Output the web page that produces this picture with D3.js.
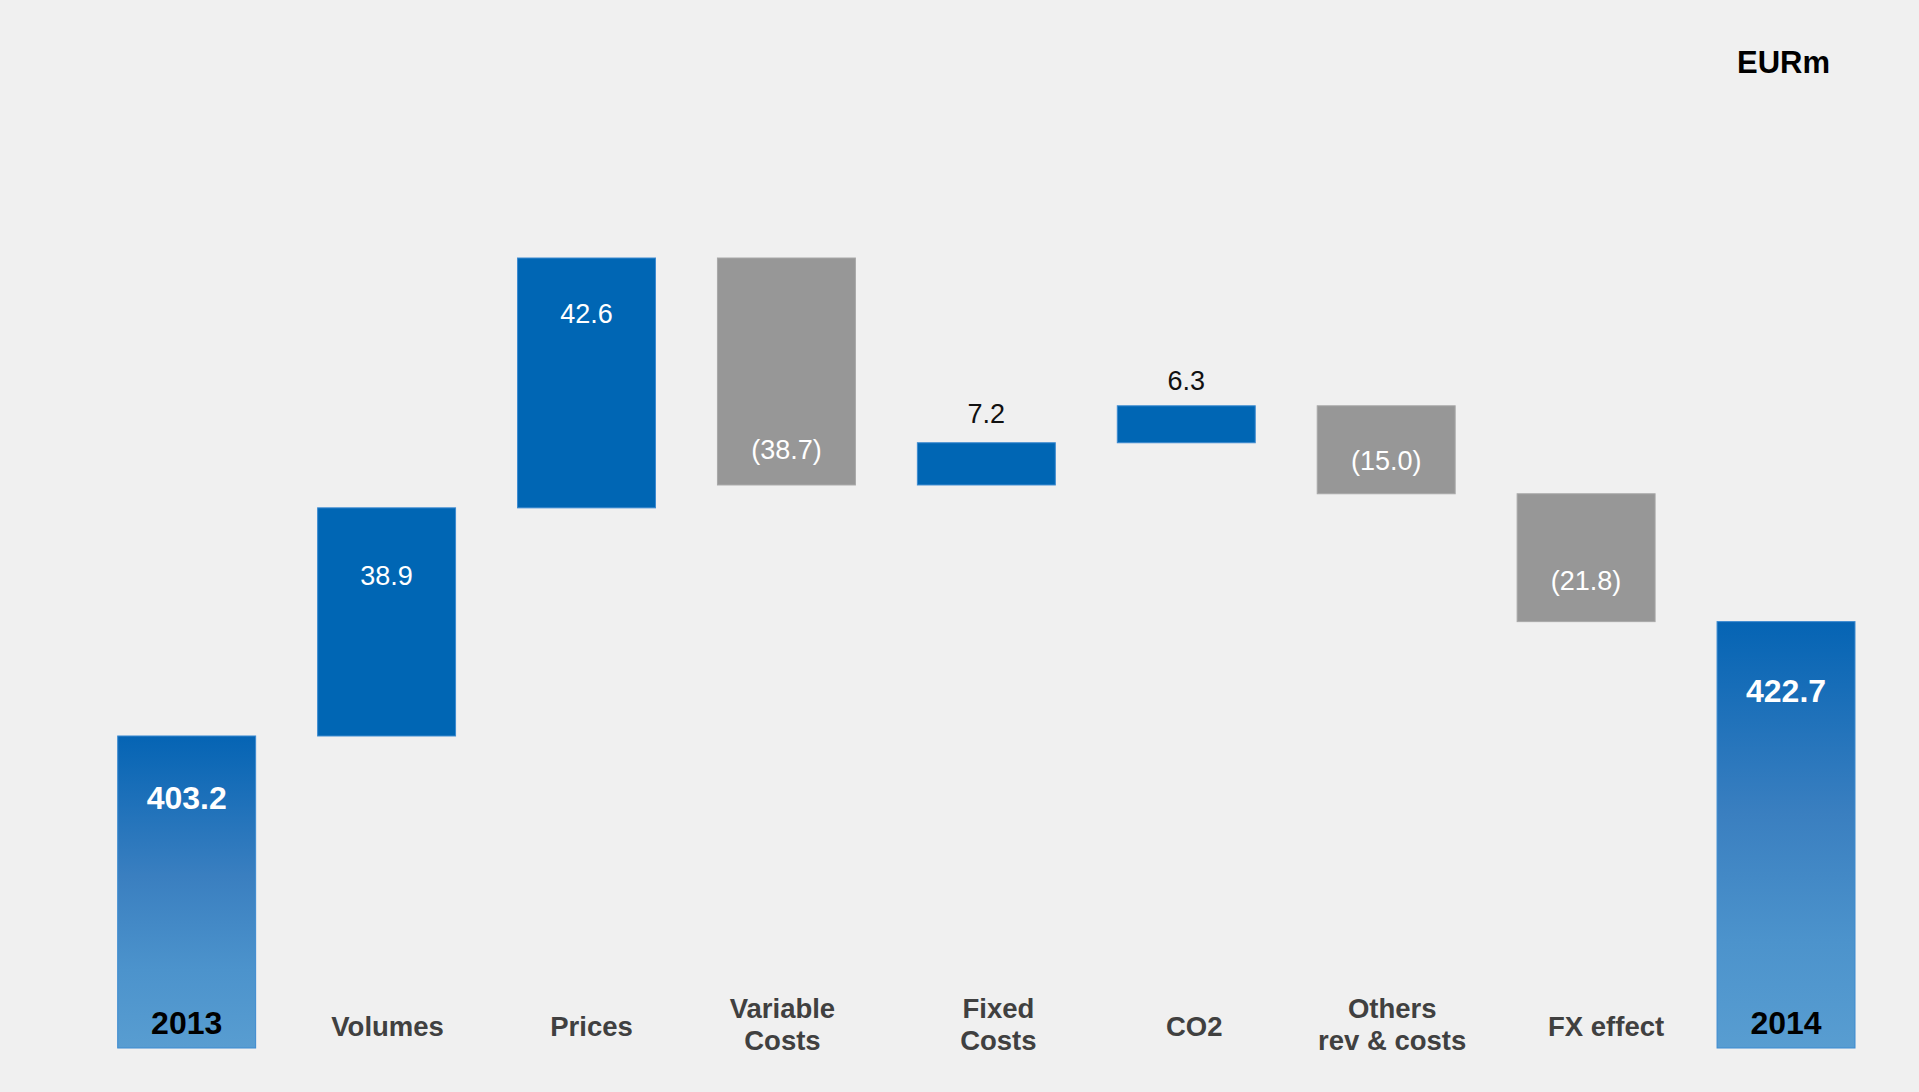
<!DOCTYPE html>
<html>
<head>
<meta charset="utf-8">
<script src="https://cdn.jsdelivr.net/npm/d3@7"></script>
<style>
  html, body { margin: 0; padding: 0; background: #f0f0f0; }
  svg { display: block; font-family: "Liberation Sans", Arial, sans-serif; }
</style>
</head>
<body>
<script>
// chart data
const categories = ["2013", "Volumes", "Prices", "Variable Costs", "Fixed Costs",
                    "CO2", "Others rev & costs", "FX effect", "2014"];
const labelLines = [["2013"], ["Volumes"], ["Prices"], ["Variable", "Costs"], ["Fixed", "Costs"],
                    ["CO2"], ["Others", "rev & costs"], ["FX effect"], ["2014"]];
const values = [403.2, 38.9, 42.6, -38.7, 7.2, 6.3, -15.0, -21.8, 422.7];
const kinds = ["total", "delta", "delta", "delta", "delta", "delta", "delta", "delta", "total"];
const unitLabel = "EURm";
const axisFloor = 350;

// small hand nudges for the labels, as in the slide
const catNudgeX = [0, 1, 5, -4, 12, 8, 6, 20, 0];
const valNudgeY = [-5, 6, -6, 0, -4, 0, 2, -6, 2];

const width = 1919;
const height = 1092;

const fmt = (v) => v < 0 ? "(" + Math.abs(v).toFixed(1) + ")" : v.toFixed(1);

// build waterfall steps
let running = 0;
const rows = categories.map((c, i) => {
  let start, end;
  if (kinds[i] === "total") {
    start = axisFloor; end = values[i]; running = values[i];
  } else {
    start = running; end = running + values[i]; running = end;
  }
  return {i: i, cat: c, lines: labelLines[i], value: values[i], kind: kinds[i],
          lo: Math.min(start, end), hi: Math.max(start, end)};
});

const svg = d3.select("body")
    .append("svg")
      .attr("width", width)
      .attr("height", height);

svg.append("rect")
    .attr("width", width)
    .attr("height", height)
    .attr("fill", "#f0f0f0");

// gradient for the total bars
const grad = svg.append("defs")
  .append("linearGradient")
    .attr("id", "totalGrad")
    .attr("x1", 0).attr("y1", 0).attr("x2", 0).attr("y2", 1);
grad.append("stop").attr("offset", "0%").attr("stop-color", "#0564b4");
grad.append("stop").attr("offset", "45%").attr("stop-color", "#3a7fc0");
grad.append("stop").attr("offset", "75%").attr("stop-color", "#4c93cc");
grad.append("stop").attr("offset", "100%").attr("stop-color", "#589dd1");

const xScale = d3.scaleBand()
    .domain(categories)
    .range([117.7, 1855])
    .paddingInner(0.31)
    .paddingOuter(0);

const yScale = d3.scaleLinear()
    .domain([axisFloor, d3.max(rows, d => d.hi)])
    .range([1048, 258]);

const colorOf = (d) => d.kind === "total" ? "url(#totalGrad)" : (d.value < 0 ? "#979797" : "#0066b4");
const strokeOf = (d) => d.value < 0 ? "#a8a8a8" : "#3c8ad0";

// bars
svg.append("g")
    .selectAll("rect")
    .data(rows)
    .enter()
    .append("rect")
      .attr("x", d => xScale(d.cat))
      .attr("y", d => yScale(d.hi))
      .attr("width", xScale.bandwidth())
      .attr("height", d => yScale(d.lo) - yScale(d.hi))
      .attr("fill", colorOf)
      .attr("stroke", strokeOf)
      .attr("stroke-width", 1);

// value labels
svg.append("g")
    .selectAll("text")
    .data(rows)
    .enter()
    .append("text")
      .attr("x", d => xScale(d.cat) + xScale.bandwidth() / 2)
      .attr("y", d => {
        const h = yScale(d.lo) - yScale(d.hi);
        let y;
        if (d.kind === "total") y = yScale(d.hi) + 78;
        else if (h < 60) y = yScale(d.hi) - 16;
        else if (d.value < 0) y = yScale(d.lo) - 26;
        else y = yScale(d.hi) + 71;
        return y + valNudgeY[d.i];
      })
      .attr("text-anchor", "middle")
      .attr("font-size", d => d.kind === "total" ? 32 : 27)
      .attr("font-weight", d => d.kind === "total" ? "bold" : "normal")
      .attr("fill", d => (yScale(d.lo) - yScale(d.hi) < 60) ? "#111111" : "#ffffff")
      .text(d => fmt(d.value));

// category labels
const catLabels = svg.append("g")
    .selectAll("text")
    .data(rows)
    .enter()
    .append("text")
      .attr("text-anchor", "middle")
      .attr("font-weight", "bold")
      .attr("font-size", d => d.kind === "total" ? 32 : 27.5)
      .attr("fill", d => d.kind === "total" ? "#000000" : "#404040")
      .attr("transform", d => {
        const cx = xScale(d.cat) + xScale.bandwidth() / 2 + catNudgeX[d.i];
        const y = d.kind === "total" ? 1034 : (d.lines.length > 1 ? 1018 : 1036);
        return "translate(" + cx + "," + y + ")";
      });

catLabels.selectAll("tspan")
    .data(d => d.lines)
    .enter()
    .append("tspan")
      .attr("x", 0)
      .attr("dy", (l, i) => i === 0 ? 0 : 31.5)
      .text(l => l);

// unit label
svg.append("text")
    .attr("x", 1830)
    .attr("y", 73)
    .attr("text-anchor", "end")
    .attr("font-size", 31)
    .attr("font-weight", "bold")
    .attr("fill", "#000000")
    .text(unitLabel);
</script>
</body>
</html>
